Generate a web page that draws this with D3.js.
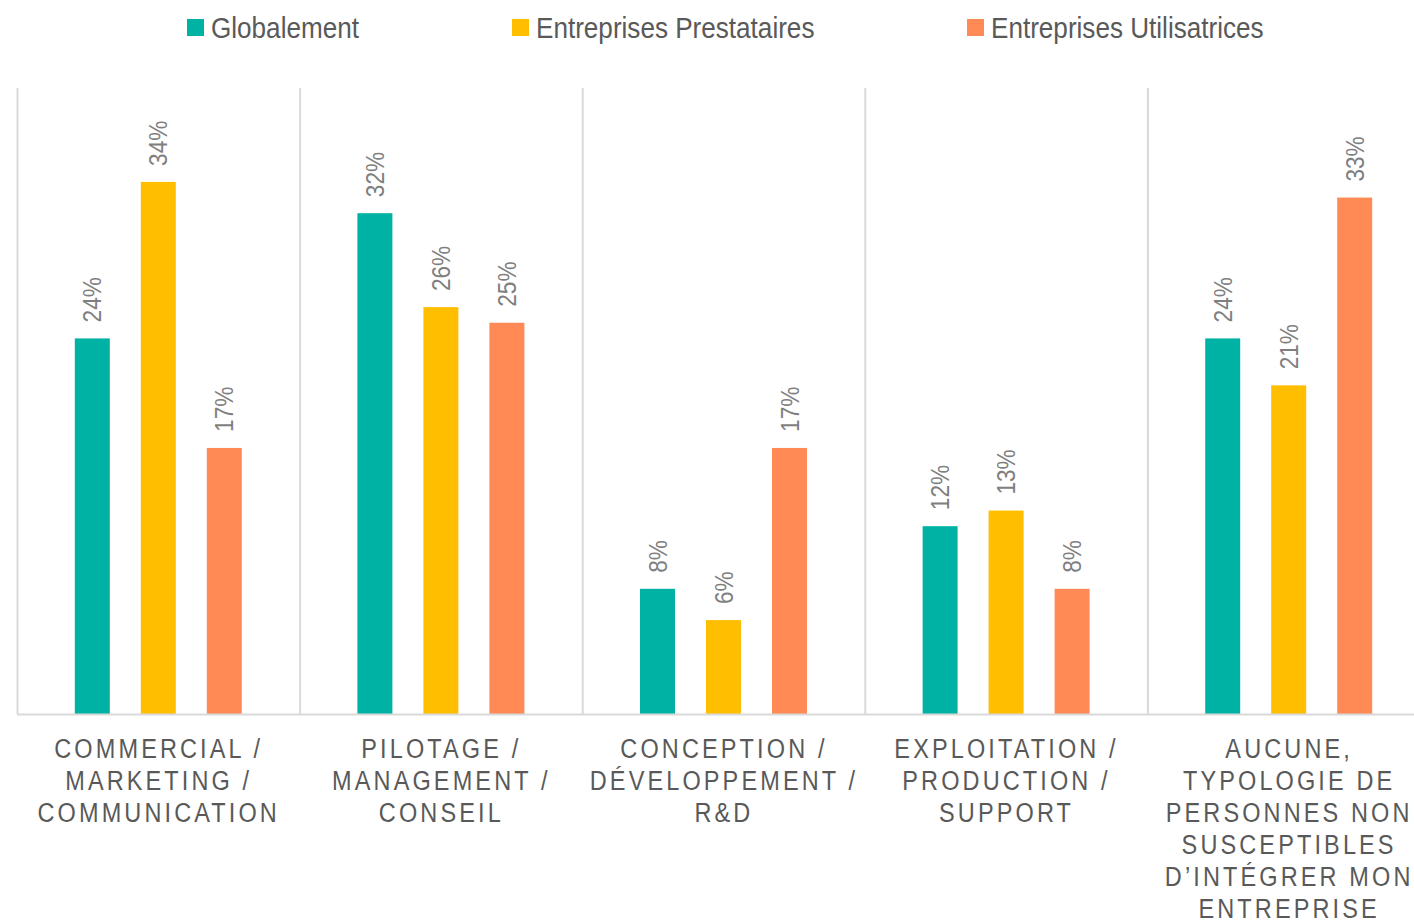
<!DOCTYPE html>
<html>
<head>
<meta charset="utf-8">
<script src="https://cdn.jsdelivr.net/npm/d3@7"></script>
<style>
  html, body { margin: 0; padding: 0; background: #fff; }
  svg { display: block; }
</style>
</head>
<body>
<svg id="chart" width="1414" height="922"></svg>
<script>
// Profiles by department, share of respondents per group
const categories = [
  ["COMMERCIAL /", "MARKETING /", "COMMUNICATION"],
  ["PILOTAGE /", "MANAGEMENT /", "CONSEIL"],
  ["CONCEPTION /", "DÉVELOPPEMENT /", "R&D"],
  ["EXPLOITATION /", "PRODUCTION /", "SUPPORT"],
  ["AUCUNE,", "TYPOLOGIE DE", "PERSONNES NON", "SUSCEPTIBLES", "D’INTÉGRER MON", "ENTREPRISE"]
];
const seriesNames = ["Globalement", "Entreprises Prestataires", "Entreprises Utilisatrices"];
const globalement = [24, 32, 8, 12, 24];
const prestataires = [34, 26, 6, 13, 21];
const utilisatrices = [17, 25, 17, 8, 33];
const seriesColors = ["#00B2A4", "#FFBE00", "#FF8A55"];

const seriesValues = [globalement, prestataires, utilisatrices];
const catKeys = categories.map((c, i) => i);

const svg = d3.select("#chart");
const margin = { left: 17, top: 88, bottom: 714 };
const catStep = 282.6;
// condensed rendering of the sans face
const squeeze = 0.87;

const x = d3.scaleBand()
  .domain(catKeys)
  .range([margin.left, margin.left + catStep * categories.length])
  .paddingInner(0).paddingOuter(0);

const xs = d3.scaleBand()
  .domain(d3.range(seriesNames.length))
  .range([0, x.bandwidth()])
  .paddingInner(0.47)
  .paddingOuter(0.876);

const y = d3.scaleLinear().domain([0, 40]).range([margin.bottom, margin.top]);

const font = "'Liberation Sans', Arial, sans-serif";

// vertical separators between categories
svg.append("g")
  .selectAll("line")
  .data(catKeys)
  .join("line")
  .attr("x1", d => x(d) + 0.5)
  .attr("x2", d => x(d) + 0.5)
  .attr("y1", y(40))
  .attr("y2", y(0))
  .attr("stroke", "#D9D9D9")
  .attr("stroke-width", 2);

// bars
const groups = svg.append("g")
  .selectAll("g")
  .data(catKeys)
  .join("g")
  .attr("transform", d => `translate(${x(d)},0)`);

groups.selectAll("rect")
  .data(ci => seriesValues.map((vals, si) => ({ si, v: vals[ci] })))
  .join("rect")
  .attr("x", d => xs(d.si))
  .attr("width", xs.bandwidth())
  .attr("y", d => y(d.v))
  .attr("height", d => y(0) - y(d.v))
  .attr("fill", d => seriesColors[d.si]);

// value labels, rotated above each bar
groups.selectAll("text")
  .data(ci => seriesValues.map((vals, si) => ({ si, v: vals[ci] })))
  .join("text")
  .attr("transform", d => `translate(${xs(d.si) + xs.bandwidth() / 2},${y(d.v) - 16}) rotate(-90) scale(${squeeze},1)`)
  .attr("dy", "0.35em")
  .attr("text-anchor", "start")
  .attr("font-family", font)
  .attr("font-size", 26)
  .attr("fill", "#7F7F7F")
  .text(d => d.v + "%");

// baseline
svg.append("line")
  .attr("x1", margin.left)
  .attr("x2", 1414)
  .attr("y1", y(0) + 0.5)
  .attr("y2", y(0) + 0.5)
  .attr("stroke", "#D9D9D9")
  .attr("stroke-width", 2);

// category labels
const labels = svg.append("g")
  .selectAll("text")
  .data(catKeys)
  .join("text")
  .attr("transform", d => `translate(${x(d) + x.bandwidth() / 2},757.5) scale(${squeeze},1)`)
  .attr("text-anchor", "middle")
  .attr("font-family", font)
  .attr("font-size", 27)
  .attr("letter-spacing", 3.6)
  .attr("fill", "#595959");

labels.selectAll("tspan")
  .data(d => categories[d])
  .join("tspan")
  .attr("x", 0.5)
  .attr("dy", (d, i) => i === 0 ? 0 : 32.1)
  .text(d => d);

// legend
const legendX = [187, 512, 967];
const legend = svg.append("g")
  .selectAll("g")
  .data(seriesNames)
  .join("g")
  .attr("transform", (d, i) => `translate(${legendX[i]},19)`);

legend.append("rect")
  .attr("width", 17)
  .attr("height", 17)
  .attr("fill", (d, i) => seriesColors[i]);

legend.append("text")
  .attr("transform", `translate(24,8.5) scale(${squeeze},1)`)
  .attr("dy", "0.36em")
  .attr("font-family", font)
  .attr("font-size", 30)
  .attr("fill", "#595959")
  .text(d => d);
</script>
</body>
</html>
